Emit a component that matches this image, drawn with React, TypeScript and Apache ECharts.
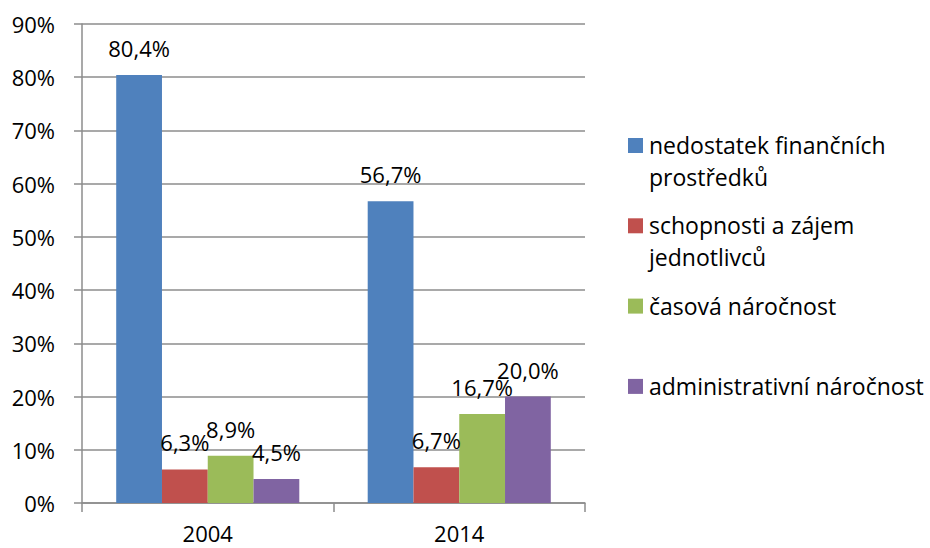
import React, { useEffect, useRef } from "react";
import * as echarts from "echarts";

const categories = ["2004", "2014"];
const seriesNames = [
  "nedostatek finančních prostředků",
  "schopnosti a zájem jednotlivců",
  "časová náročnost",
  "administrativní náročnost",
];
const legendLabels = [
  "nedostatek finančních\nprostředků",
  "schopnosti a zájem\njednotlivců",
  "časová náročnost",
  "administrativní náročnost",
];
const financeValues = [80.4, 56.7];
const abilityValues = [6.3, 6.7];
const timeValues = [8.9, 16.7];
const adminValues = [4.5, 20.0];
const seriesValues = [financeValues, abilityValues, timeValues, adminValues];
const colors = ["#4F81BD", "#C0504D", "#9BBB59", "#8064A2"];
const yTicks = [0, 10, 20, 30, 40, 50, 60, 70, 80, 90];

const FONT = "'Open Sans'";
const GRAY = "#8C8C8C";

export default function App() {
  const ref = useRef<HTMLDivElement>(null);

  useEffect(() => {
    document.body.style.margin = "0";
    if (!ref.current) return;
    const chart = echarts.init(ref.current, undefined, { renderer: "svg" });

    const legendGraphics: any[] = [];
    legendLabels.forEach((label, i) => {
      const top = 138 + i * 80.3;
      legendGraphics.push({
        type: "rect",
        left: 628,
        top: top,
        shape: { width: 15, height: 15 },
        style: { fill: colors[i] },
      });
      legendGraphics.push({
        type: "text",
        left: 649,
        top: top + 7 - 16,
        style: {
          text: label,
          font: `23px ${FONT}`,
          fill: "#000",
          lineHeight: 32,
          verticalAlign: "top",
        },
      });
    });

    chart.setOption({
      animation: false,
      textStyle: { fontFamily: FONT },
      grid: { left: 82, right: 345, top: 24, bottom: 45, containLabel: false },
      xAxis: {
        type: "category",
        data: categories,
        axisLine: { lineStyle: { color: GRAY, width: 1.5 } },
        axisTick: { show: true, length: 9, lineStyle: { color: GRAY, width: 1.5 } },
        axisLabel: {
          color: "#000",
          fontSize: 22,
          lineHeight: 22,
          fontFamily: FONT,
          margin: 19,
        },
      },
      yAxis: {
        type: "value",
        min: yTicks[0],
        max: yTicks[yTicks.length - 1],
        interval: 10,
        axisLine: { show: true, lineStyle: { color: GRAY, width: 1.5 } },
        axisTick: { show: true, length: 8, lineStyle: { color: GRAY, width: 1.5 } },
        axisLabel: {
          color: "#000",
          fontSize: 22,
          fontFamily: FONT,
          margin: 27,
          formatter: "{value}%",
        },
        splitLine: { show: true, lineStyle: { color: GRAY, width: 1.5 } },
      },
      series: seriesNames.map((name, i) => ({
        name,
        type: "bar",
        data: seriesValues[i],
        barWidth: "18.2%",
        barGap: "0%",
        itemStyle: { color: colors[i] },
        label: {
          show: true,
          position: "top",
          distance: 16,
          color: "#000",
          fontSize: 22,
          fontFamily: FONT,
          formatter: (p: any) => `${Number(p.value).toFixed(1).replace(".", ",")}%`,
        },
      })),
      graphic: legendGraphics,
    });

    return () => chart.dispose();
  }, []);

  return <div ref={ref} style={{ width: 930, height: 548 }} />;
}
